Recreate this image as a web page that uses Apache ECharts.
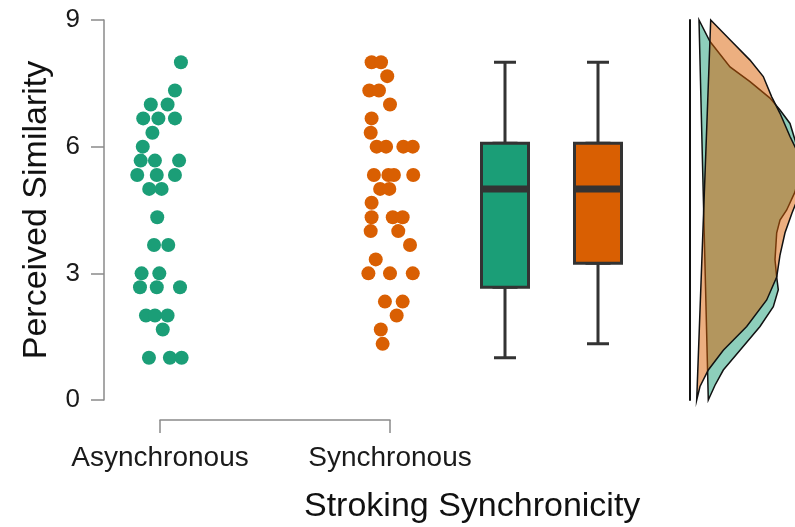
<!DOCTYPE html>
<html><head><meta charset="utf-8">
<script src="https://cdn.jsdelivr.net/npm/echarts@6/dist/echarts.min.js"></script>
<style>html,body{margin:0;padding:0;background:#fff}#c{width:795px;height:527px}</style>
</head><body><div id="c"></div>
<script>
// ---- data ----
const categories = ['Asynchronous', 'Synchronous'];
const xTitle = 'Stroking Synchronicity';
const yTitle = 'Perceived Similarity';
const yTicks = [0, 3, 6, 9];

const asyncValues = [8, 7.33, 7, 7, 6.67, 6.67, 6.67, 6.33, 6, 5.67, 5.67, 5.67, 5.33, 5.33, 5.33, 5, 5, 4.33, 3.67, 3.67, 3, 3, 2.67, 2.67, 2.67, 2, 2, 2, 1.67, 1, 1, 1];
const asyncJitter = [0.091, 0.065, -0.040, 0.033, -0.073, -0.007, 0.065, -0.033, -0.075, -0.084, -0.022, 0.083, -0.099, -0.014, 0.065, -0.047, 0.007, -0.012, -0.026, 0.036, -0.080, -0.003, -0.087, -0.014, 0.087, -0.061, -0.022, 0.033, 0.012, -0.048, 0.043, 0.094];

const syncValues = [8, 8, 7.67, 7.33, 7.33, 7, 6.67, 6.33, 6, 6, 6, 6, 5.33, 5.33, 5.33, 5.33, 5, 5, 4.67, 4.33, 4.33, 4.33, 4, 4, 3.67, 3.33, 3, 3, 3, 2.33, 2.33, 2, 1.67, 1.33];
const syncJitter = [-0.080, -0.039, -0.012, -0.090, -0.048, 0.000, -0.080, -0.084, -0.058, -0.017, 0.058, 0.099, -0.070, -0.007, 0.017, 0.101, -0.043, -0.003, -0.080, -0.080, 0.012, 0.055, -0.084, 0.036, 0.087, -0.062, -0.094, 0.000, 0.099, -0.022, 0.055, 0.029, -0.040, -0.032];

const boxMin = [1, 1.33];
const boxQ1 = [2.67, 3.24];
const boxMedian = [5, 5];
const boxQ3 = [6.08, 6.08];
const boxMax = [8, 8];

// half-violin densities (relative width) at given rating levels
const asyncDensY = [0, 0.35, 0.71, 1.18, 1.74, 2.21, 2.61, 2.91, 3.32, 3.96, 4.26, 4.5, 4.93, 5.3, 5.7, 6.16, 6.55, 6.87, 7.15, 7.54, 7.89, 8.49, 9];
const asyncDens  = [18.3, 25, 33.3, 50, 70, 83.3, 88.3, 86.7, 85, 86.7, 90, 96.7, 105, 109, 110, 105, 100, 90, 80, 60, 40, 20, 9];
const syncDensY = [0, 0.32, 0.71, 1.18, 1.74, 2.37, 2.91, 3.43, 3.96, 4.43, 4.9, 5.4, 5.9, 6.24, 6.79, 7.18, 7.66, 8.05, 8.53, 9];
const syncDens  = [6.7, 10, 18.3, 33.3, 56.7, 76.7, 86.7, 90, 95, 102, 110, 113, 107, 100, 90, 81.7, 73.3, 60, 40, 20.7];

// ---- style ----
const GREEN = '#1b9e77', ORANGE = '#d95f02';
const FONT = 'Liberation Sans, Arial, sans-serif';
const AXIS_GREY = '#8a8a8a';

const chart = echarts.init(document.getElementById('c'), null, {renderer: 'canvas'});

function densitySeries(dens, ys, fill) {
  return {
    type: 'custom', xAxisIndex: 2, yAxisIndex: 2,
    data: dens.map((d, i) => [d, ys[i]]),
    renderItem: function (params, api) {
      if (params.dataIndex !== 0) return null;
      const pts = dens.map((d, i) => api.coord([d, ys[i]]));
      return {type: 'polygon', shape: {points: pts},
        style: {fill: fill, stroke: '#111', lineWidth: 1.5}};
    }
  };
}

const option = {
  animation: false,
  title: {
    text: xTitle, left: 299, top: 485,
    textStyle: {fontFamily: FONT, fontSize: 34, fontWeight: 'normal', color: '#111'}
  },
  grid: [
    {left: 160, right: 405, top: 20, bottom: 127},
    {left: 458.5, right: 150.5, top: 20, bottom: 127},
    {left: 690, right: 0, top: 20, bottom: 127}
  ],
  xAxis: [
    {gridIndex: 0, type: 'value', min: 1, max: 2, interval: 1, offset: 20,
      axisLine: {onZero: false, lineStyle: {color: AXIS_GREY, width: 1.5}},
      axisTick: {length: 13, lineStyle: {color: AXIS_GREY, width: 1.5}},
      axisLabel: {formatter: v => categories[v - 1], fontFamily: FONT, fontSize: 28, margin: 24, color: '#1a1a1a'},
      splitLine: {show: false}},
    {gridIndex: 1, type: 'category', data: categories, show: false},
    {gridIndex: 2, type: 'value', min: 0, max: 105, show: false},
    {gridIndex: 1, type: 'category', data: categories, show: false}
  ],
  yAxis: [
    {gridIndex: 0, type: 'value', min: yTicks[0], max: yTicks[yTicks.length - 1], interval: 3, offset: 56,
      axisLine: {show: true, onZero: false, lineStyle: {color: AXIS_GREY, width: 1.5}},
      axisTick: {show: true, length: 13, lineStyle: {color: AXIS_GREY, width: 1.5}},
      axisLabel: {fontFamily: FONT, fontSize: 26, margin: 24, color: '#1a1a1a'},
      splitLine: {show: false},
      name: yTitle, nameLocation: 'middle', nameGap: 50,
      nameTextStyle: {fontFamily: FONT, fontSize: 34, color: '#111'}},
    {gridIndex: 1, type: 'value', min: 0, max: 9, show: false},
    {gridIndex: 2, type: 'value', min: 0, max: 9,
      axisLine: {show: true, onZero: false, lineStyle: {color: '#111', width: 2}},
      axisTick: {show: false}, axisLabel: {show: false}, splitLine: {show: false}}
  ],
  series: [
    {type: 'scatter', xAxisIndex: 0, yAxisIndex: 0, clip: false, symbolSize: 14,
      itemStyle: {color: GREEN, opacity: 1},
      data: asyncValues.map((v, i) => [1 + asyncJitter[i], v])},
    {type: 'scatter', xAxisIndex: 0, yAxisIndex: 0, clip: false, symbolSize: 14,
      itemStyle: {color: ORANGE, opacity: 1},
      data: syncValues.map((v, i) => [2 + syncJitter[i], v])},
    {type: 'boxplot', xAxisIndex: 1, yAxisIndex: 1, boxWidth: [22, 22], z: 2,
      itemStyle: {borderColor: '#333', borderWidth: 3},
      data: categories.map((c, i) => ({value: [boxMin[i], boxQ1[i], boxMedian[i], boxQ3[i], boxMax[i]],
        itemStyle: {color: i === 0 ? GREEN : ORANGE}}))},
    {type: 'boxplot', xAxisIndex: 3, yAxisIndex: 1, boxWidth: [47, 47], z: 3,
      itemStyle: {borderColor: '#333', borderWidth: 3},
      data: categories.map((c, i) => ({value: [boxQ1[i], boxQ1[i], boxMedian[i], boxQ3[i], boxQ3[i]],
        itemStyle: {color: i === 0 ? GREEN : ORANGE}}))},
    {type: 'scatter', xAxisIndex: 1, yAxisIndex: 1, z: 4, symbol: 'rect', symbolSize: [47, 7],
      itemStyle: {color: '#333', opacity: 1},
      data: categories.map((c, i) => [i, boxMedian[i]])},
    densitySeries(asyncDens, asyncDensY, 'rgba(27,158,119,0.5)'),
    densitySeries(syncDens, syncDensY, 'rgba(217,95,2,0.5)')
  ]
};
chart.setOption(option);
</script>
</body></html>
